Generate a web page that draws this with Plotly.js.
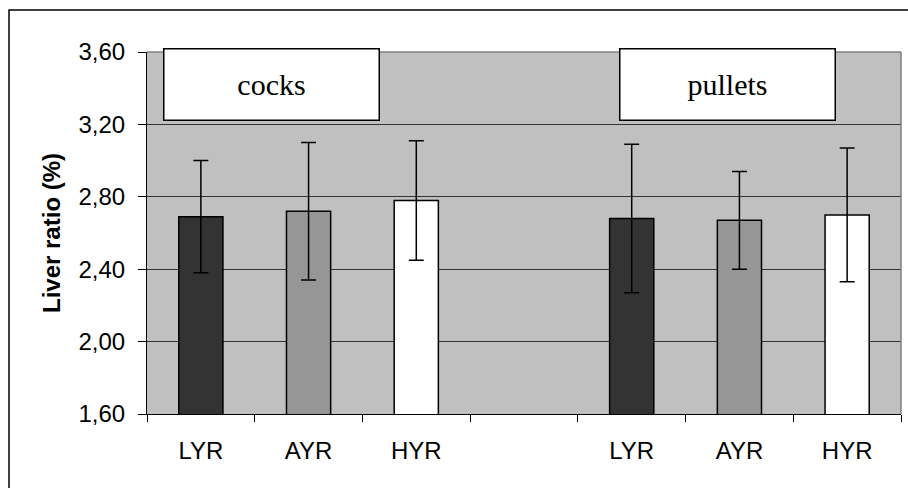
<!DOCTYPE html>
<html>
<head>
<meta charset="utf-8">
<script src="https://cdn.plot.ly/plotly-3.0.1.min.js"></script>
<style>
  html, body { margin: 0; padding: 0; background: #ffffff; }
  #chart { width: 908px; height: 488px; }
</style>
</head>
<body>
<div id="chart"></div>
<script>
// ---- data ----
const positions = [0, 1, 2, 4, 5, 6];
const tickLabels = ['LYR', 'AYR', 'HYR', '', 'LYR', 'AYR', 'HYR'];
const groups = ['cocks', 'pullets'];
const liverRatio = [2.69, 2.72, 2.78, 2.68, 2.67, 2.70];
const liverSD = [0.31, 0.38, 0.33, 0.41, 0.27, 0.37];
const barColors = ['#333333', '#969696', '#ffffff', '#333333', '#969696', '#ffffff'];

const trace = {
  type: 'bar',
  x: positions,
  y: liverRatio,
  base: 0,
  width: 0.41,
  marker: { color: barColors, line: { color: '#000000', width: 1.5 } },
  error_y: { type: 'data', array: liverSD, visible: true, color: '#000000', thickness: 1.5, width: 7.5 },
  hoverinfo: 'none',
  showlegend: false
};

const L = 147, R = 7, T = 52, B = 74;
const W = 908 - L - R, H = 488 - T - B;
const px = x => (x - L) / W;
const py = y => (488 - B - y) / H;

const layout = {
  width: 908, height: 488,
  margin: { l: L, r: R, t: T, b: B, pad: 0 },
  paper_bgcolor: '#ffffff',
  plot_bgcolor: '#c0c0c0',
  font: { family: 'Liberation Sans, Arial, sans-serif', color: '#000000', size: 24 },
  bargap: 0,
  xaxis: {
    range: [-0.5, 6.5],
    tickmode: 'array',
    tickvals: [0, 1, 2, 3, 4, 5, 6],
    ticktext: tickLabels,
    ticks: '',
    showgrid: false,
    zeroline: false,
    showline: true, linecolor: '#000000', linewidth: 1,
    ticklabelstandoff: 15,
    tickfont: { size: 24 },
    minor: { tickmode: 'array', tickvals: [-0.5, 0.5, 1.5, 2.5, 3.5, 4.5, 5.5, 6.5], ticks: 'outside', ticklen: 7, tickcolor: '#000000', tickwidth: 1, showgrid: false },
    fixedrange: true
  },
  yaxis: {
    range: [1.6, 3.6],
    tickmode: 'array',
    tickvals: [1.6, 2.0, 2.4, 2.8, 3.2, 3.6],
    ticktext: ['1,60', '2,00', '2,40', '2,80', '3,20', '3,60'],
    ticks: 'outside', ticklen: 8, tickcolor: '#000000', tickwidth: 1,
    showgrid: true, gridcolor: '#333333', gridwidth: 1,
    zeroline: false,
    showline: true, linecolor: '#000000', linewidth: 1,
    ticklabelstandoff: 8,
    tickfont: { size: 24 },
    title: { text: '<b>Liver ratio (%)</b>', font: { size: 24 }, standoff: 11 },
    fixedrange: true
  },
  shapes: [
    { type: 'line', xref: 'paper', yref: 'paper', x0: 0, x1: 1, y0: 1, y1: 1, line: { color: '#808080', width: 1.5 } },
    { type: 'line', xref: 'paper', yref: 'paper', x0: 1, x1: 1, y0: 0, y1: 1, line: { color: '#808080', width: 1.5 } },
    { type: 'rect', xref: 'paper', yref: 'paper', x0: px(9), x1: px(912), y0: py(492), y1: py(10), line: { color: '#000000', width: 1.5 }, fillcolor: 'rgba(0,0,0,0)' }
  ],
  annotations: [
    { xref: 'paper', yref: 'paper', x: px(271), y: py(84), text: groups[0], showarrow: false,
      width: 214, height: 70, bgcolor: '#ffffff', bordercolor: '#000000', borderwidth: 1.5, borderpad: 0,
      font: { family: 'Liberation Serif, Times New Roman, serif', size: 30, color: '#000000' }, xanchor: 'center', yanchor: 'middle' },
    { xref: 'paper', yref: 'paper', x: px(727), y: py(84), text: groups[1], showarrow: false,
      width: 214, height: 70, bgcolor: '#ffffff', bordercolor: '#000000', borderwidth: 1.5, borderpad: 0,
      font: { family: 'Liberation Serif, Times New Roman, serif', size: 30, color: '#000000' }, xanchor: 'center', yanchor: 'middle' }
  ]
};

Plotly.newPlot('chart', [trace], layout, { staticPlot: true, displayModeBar: false });
</script>
</body>
</html>
